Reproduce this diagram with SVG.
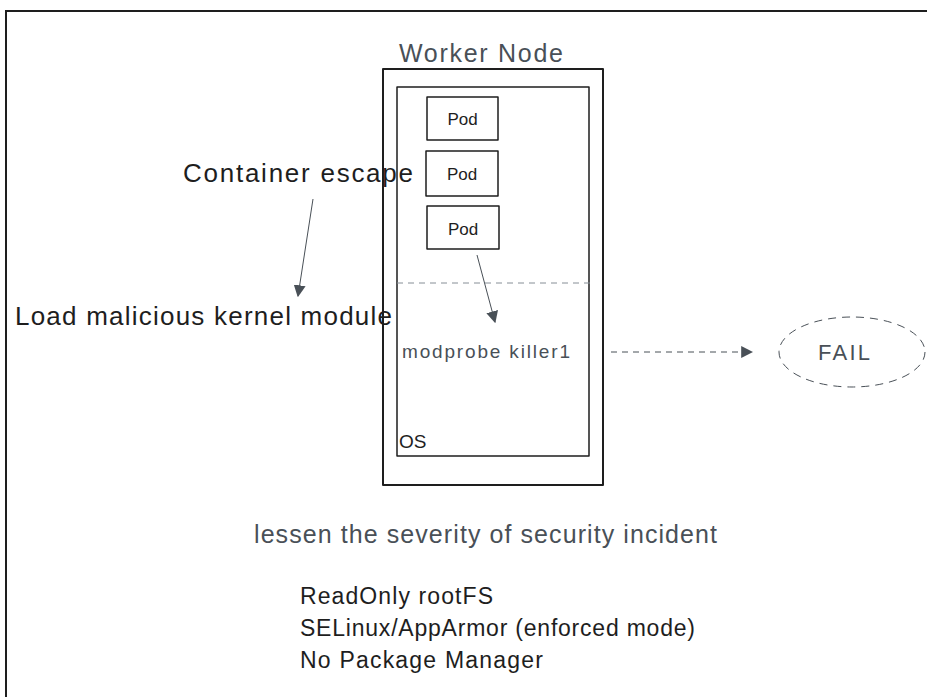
<svg xmlns="http://www.w3.org/2000/svg" width="927" height="697" viewBox="0 0 927 697">
  <style>
    .t { font-family: "Liberation Sans", "DejaVu Sans", sans-serif; }
    .dark { fill: #1e1e1e; }
    .grey { fill: #495057; }
    .box { fill: none; stroke: #1e1e1e; stroke-linejoin: round; }
    .conn { fill: none; stroke: #495057; stroke-width: 1; }
  </style>
  <defs>
    <marker id="tri" viewBox="0 0 10 10" refX="9" refY="5" markerWidth="12" markerHeight="12" markerUnits="userSpaceOnUse" orient="auto">
      <path d="M0,0 L10,5 L0,10 Z" fill="#495057"/>
    </marker>
  </defs>

  <rect width="927" height="697" fill="#ffffff"/>
  <!-- page frame -->
  <path d="M6,700 L6,11 L930,11" fill="none" stroke="#1e1e1e" stroke-width="2"/>

  <g id="worker-node">
    <rect class="box" x="383" y="69" width="220" height="416" stroke-width="2"/>
    <text class="t grey" x="399" y="62" font-size="25" textLength="164">Worker Node</text>
  </g>

  <g id="os">
    <rect class="box" x="397" y="87" width="192" height="369" stroke-width="1.5"/>
    <line x1="397" y1="283" x2="592" y2="283" stroke="#868e96" stroke-width="1" stroke-dasharray="6 5"/>
    <text class="t dark" x="399" y="448" font-size="19">OS</text>
  </g>

  <g id="pod-1">
    <rect class="box" x="427" y="97" width="71" height="43" stroke-width="1.5"/>
    <text class="t dark" x="462.5" y="125" font-size="17" text-anchor="middle">Pod</text>
  </g>
  <g id="pod-2">
    <rect class="box" x="426" y="151" width="72" height="45" stroke-width="1.5"/>
    <text class="t dark" x="462" y="180" font-size="17" text-anchor="middle">Pod</text>
  </g>
  <g id="pod-3">
    <rect class="box" x="427" y="206" width="72" height="43" stroke-width="1.5"/>
    <text class="t dark" x="463" y="235" font-size="17" text-anchor="middle">Pod</text>
  </g>

  <g id="container-escape">
    <text class="t dark" x="183" y="182" font-size="26" textLength="230">Container escape</text>
  </g>
  <g id="load-module">
    <text class="t dark" x="15" y="325" font-size="26" textLength="377">Load malicious kernel module</text>
  </g>
  <g id="modprobe">
    <text class="t grey" x="402" y="358" font-size="19" textLength="168">modprobe killer1</text>
  </g>
  <g id="fail">
    <ellipse cx="852" cy="352" rx="73" ry="35" fill="none" stroke="#495057" stroke-width="1" stroke-dasharray="8 6"/>
    <text class="t grey" x="844" y="360" font-size="22" text-anchor="middle" textLength="52">FAIL</text>
  </g>

  <g id="connectors">
    <line class="conn" x1="313" y1="199" x2="298" y2="296" marker-end="url(#tri)"/>
    <line class="conn" x1="477" y1="255" x2="495" y2="322" marker-end="url(#tri)"/>
    <line class="conn" x1="611" y1="352" x2="752" y2="352" stroke-dasharray="6 5" marker-end="url(#tri)"/>
  </g>

  <g id="notes">
    <text class="t grey" x="254" y="543" font-size="25" textLength="463">lessen the severity of security incident</text>
    <text class="t dark" x="300" y="604" font-size="23" textLength="193">ReadOnly rootFS</text>
    <text class="t dark" x="300" y="636" font-size="23" textLength="395">SELinux/AppArmor (enforced mode)</text>
    <text class="t dark" x="300" y="668" font-size="23" textLength="243">No Package Manager</text>
  </g>
</svg>
